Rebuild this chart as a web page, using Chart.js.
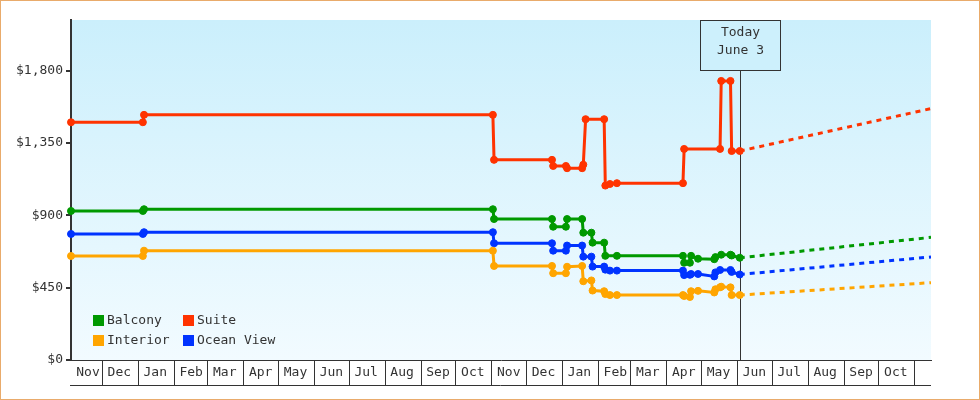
<!DOCTYPE html>
<html><head><meta charset="utf-8">
<script src="https://cdn.jsdelivr.net/npm/chart.js@4"></script>
<style>html,body{margin:0;padding:0;background:#fff;overflow:hidden}canvas{display:block}</style>
</head><body>
<canvas id="c" width="980" height="400"></canvas>
<script>
// ---------- data ----------
const START = '2023-11-04';
const END = '2025-11-15';
const TODAY = '2025-06-03';
const todayText = ['Today', 'June 3'];

const monthStarts = ['2023-11-04','2023-12-01','2024-01-01','2024-02-01','2024-03-01','2024-04-01','2024-05-01','2024-06-01','2024-07-01','2024-08-01','2024-09-01','2024-10-01','2024-11-01','2024-12-01','2025-01-01','2025-02-01','2025-03-01','2025-04-01','2025-05-01','2025-06-01','2025-07-01','2025-08-01','2025-09-01','2025-10-01','2025-11-01'];
const monthLabels = ['Nov','Dec','Jan','Feb','Mar','Apr','May','Jun','Jul','Aug','Sep','Oct','Nov','Dec','Jan','Feb','Mar','Apr','May','Jun','Jul','Aug','Sep','Oct',''];

const yTicks = [0, 450, 900, 1350, 1800];
const yMax = 2115;

const seriesNames = ['Balcony', 'Suite', 'Interior', 'Ocean View'];
const seriesColors = ['#009900', '#ff3300', '#ffa500', '#0033ff'];

const balconyDates = ['2023-11-04','2024-01-05','2024-01-06','2024-11-02','2024-11-03','2024-12-23','2024-12-24','2025-01-04','2025-01-05','2025-01-18','2025-01-19','2025-01-26','2025-01-27','2025-02-06','2025-02-07','2025-02-17','2025-04-15','2025-04-16','2025-04-21','2025-04-22','2025-04-28','2025-05-12','2025-05-13','2025-05-18','2025-05-26','2025-05-27','2025-06-03'];
const balconyPrices = [927,927,938,938,877,877,829,829,877,877,792,792,730,730,648,648,648,605,605,648,630,627,640,655,655,650,636];

const suiteDates = ['2023-11-04','2024-01-05','2024-01-06','2024-11-02','2024-11-03','2024-12-23','2024-12-24','2025-01-04','2025-01-05','2025-01-18','2025-01-19','2025-01-21','2025-02-06','2025-02-07','2025-02-11','2025-02-17','2025-04-15','2025-04-16','2025-05-17','2025-05-18','2025-05-26','2025-05-27','2025-06-03'];
const suitePrices = [1479,1479,1525,1525,1245,1245,1207,1207,1193,1193,1215,1498,1498,1085,1095,1100,1100,1313,1313,1736,1736,1300,1300];

const interiorDates = ['2023-11-04','2024-01-05','2024-01-06','2024-11-02','2024-11-03','2024-12-23','2024-12-24','2025-01-04','2025-01-05','2025-01-18','2025-01-19','2025-01-26','2025-01-27','2025-02-06','2025-02-07','2025-02-11','2025-02-17','2025-04-15','2025-04-16','2025-04-21','2025-04-22','2025-04-28','2025-05-12','2025-05-13','2025-05-17','2025-05-18','2025-05-26','2025-05-27','2025-06-03'];
const interiorPrices = [647,647,680,680,585,585,540,540,580,585,490,495,432,428,410,404,404,404,398,392,428,430,420,440,452,456,452,404,404];

const oceanDates = ['2023-11-04','2024-01-05','2024-01-06','2024-11-02','2024-11-03','2024-12-23','2024-12-24','2025-01-04','2025-01-05','2025-01-18','2025-01-19','2025-01-26','2025-01-27','2025-02-06','2025-02-07','2025-02-11','2025-02-17','2025-04-15','2025-04-16','2025-04-21','2025-04-22','2025-04-28','2025-05-12','2025-05-13','2025-05-17','2025-05-26','2025-05-27','2025-06-03'];
const oceanPrices = [784,784,795,795,726,726,680,680,712,712,643,643,581,581,562,556,556,556,528,530,535,535,520,545,560,560,548,532];

const forecastDates = ['2025-06-03', '2025-11-15'];
const balconyForecast = [636, 763];
const suiteForecast = [1300, 1564];
const interiorForecast = [404, 481];
const oceanForecast = [532, 641];

// ---------- helpers ----------
const day = s => { const [y, m, d] = s.split('-').map(Number); const [y0, m0, d0] = START.split('-').map(Number); return (Date.UTC(y, m - 1, d) - Date.UTC(y0, m0 - 1, d0)) / 864e5; };
const pts = (dates, vals) => dates.map((d, i) => ({ x: day(d), y: vals[i] }));

const mainSeries = [
  [balconyDates, balconyPrices, balconyForecast],
  [suiteDates, suitePrices, suiteForecast],
  [interiorDates, interiorPrices, interiorForecast],
  [oceanDates, oceanPrices, oceanForecast]
];

const datasets = [];
mainSeries.forEach((s, i) => {
  datasets.push({
    label: seriesNames[i], data: pts(s[0], s[1]),
    borderColor: seriesColors[i], backgroundColor: seriesColors[i],
    borderWidth: 3, pointRadius: 3.5, pointBorderWidth: 1,
    pointBackgroundColor: seriesColors[i], pointBorderColor: seriesColors[i],
    tension: 0, fill: false, clip: false
  });
});
mainSeries.forEach((s, i) => {
  datasets.push({
    label: seriesNames[i] + ' forecast', data: pts(forecastDates, s[2]),
    borderColor: seriesColors[i], borderWidth: 3, borderDash: [5, 5],
    pointRadius: 0, tension: 0, fill: false, isForecast: true
  });
});

const FONT = 'DejaVu Sans Mono';
const TEXT = '#333';
Chart.defaults.font.family = FONT;
Chart.defaults.font.size = 13;
Chart.defaults.color = TEXT;

const decor = {
  id: 'decor',
  beforeDraw(chart) {
    const { ctx, chartArea: a } = chart;
    ctx.save();
    ctx.fillStyle = '#fff';
    ctx.fillRect(0, 0, chart.width, chart.height);
    const g = ctx.createLinearGradient(0, a.top, 0, a.bottom);
    g.addColorStop(0, '#cbeffc');
    g.addColorStop(1, '#f2fbff');
    ctx.fillStyle = g;
    ctx.fillRect(a.left, a.top, a.right - a.left, a.bottom - a.top);
    ctx.restore();
  },
  beforeDatasetsDraw(chart) {
    const { ctx, chartArea: a, scales } = chart;
    const x = Math.round(scales.x.getPixelForValue(day(TODAY))) + 0.5;
    ctx.save();
    ctx.strokeStyle = TEXT; ctx.lineWidth = 1;
    ctx.beginPath(); ctx.moveTo(x, a.top + 50); ctx.lineTo(x, a.bottom); ctx.stroke();
    ctx.fillStyle = '#cdf0fc';
    ctx.fillRect(x - 40, a.top + 0.5, 80, 50);
    ctx.strokeRect(x - 40, a.top + 0.5, 80, 50);
    ctx.fillStyle = TEXT; ctx.font = '13px ' + FONT;
    ctx.textAlign = 'center'; ctx.textBaseline = 'middle';
    ctx.fillText(todayText[0], x, a.top + 13);
    ctx.fillText(todayText[1], x, a.top + 31);
    ctx.restore();
  },
  afterDraw(chart) {
    const { ctx, chartArea: a } = chart;
    ctx.save();
    // bottom line of month cells
    ctx.strokeStyle = TEXT; ctx.lineWidth = 1;
    ctx.beginPath(); ctx.moveTo(a.left - 1, a.bottom + 25.5); ctx.lineTo(a.right, a.bottom + 25.5); ctx.stroke();
    // legend
    ctx.font = '13px ' + FONT; ctx.textBaseline = 'middle'; ctx.textAlign = 'left';
    chart.data.datasets.filter(d => !d.isForecast).forEach((d, i) => {
      const col = i % 2, row = Math.floor(i / 2);
      const sx = a.left + 22 + col * 90, sy = a.bottom - 45 + row * 20;
      ctx.fillStyle = d.borderColor;
      ctx.fillRect(sx, sy, 11, 11);
      ctx.fillStyle = TEXT;
      ctx.fillText(d.label, sx + 14, sy + 6);
    });
    // outer border
    ctx.strokeStyle = '#e9ab6b'; ctx.lineWidth = 1;
    ctx.strokeRect(0.5, 0.5, chart.width - 1, chart.height - 1);
    ctx.restore();
  }
};

new Chart(document.getElementById('c'), {
  type: 'line',
  data: { datasets },
  plugins: [decor],
  options: {
    responsive: false, animation: false, devicePixelRatio: 1,
    layout: { padding: { left: 0, right: 49, top: 20, bottom: 15 } },
    plugins: { legend: { display: false }, tooltip: { enabled: false } },
    scales: {
      x: {
        type: 'linear', min: day(START), max: day(END),
        afterBuildTicks: s => { s.ticks = monthStarts.map(m => ({ value: day(m) })); },
        afterFit: s => { s.height = 25; },
        ticks: {
          autoSkip: false, maxRotation: 0, minRotation: 0,
          labelOffset: 17, padding: -20, color: TEXT,
          font: { family: FONT, size: 13 },
          callback: (v, i) => monthLabels[i]
        },
        grid: {
          drawOnChartArea: false, drawTicks: true, tickLength: 25, lineWidth: 1,
          color: ctx => ctx.index === 0 ? 'rgba(0,0,0,0)' : TEXT
        },
        border: { display: true, color: TEXT, width: 1 }
      },
      y: {
        min: 0, max: yMax,
        afterBuildTicks: s => { s.ticks = yTicks.map(v => ({ value: v })); },
        afterFit: s => { s.width = 71; },
        ticks: {
          padding: 3, color: TEXT, font: { family: FONT, size: 13 },
          callback: v => '$' + Number(v).toLocaleString('en-US')
        },
        grid: { drawOnChartArea: false, drawTicks: true, tickLength: 5, lineWidth: 2, color: TEXT },
        border: { display: true, color: TEXT, width: 2 }
      }
    }
  }
});
</script>
</body></html>
